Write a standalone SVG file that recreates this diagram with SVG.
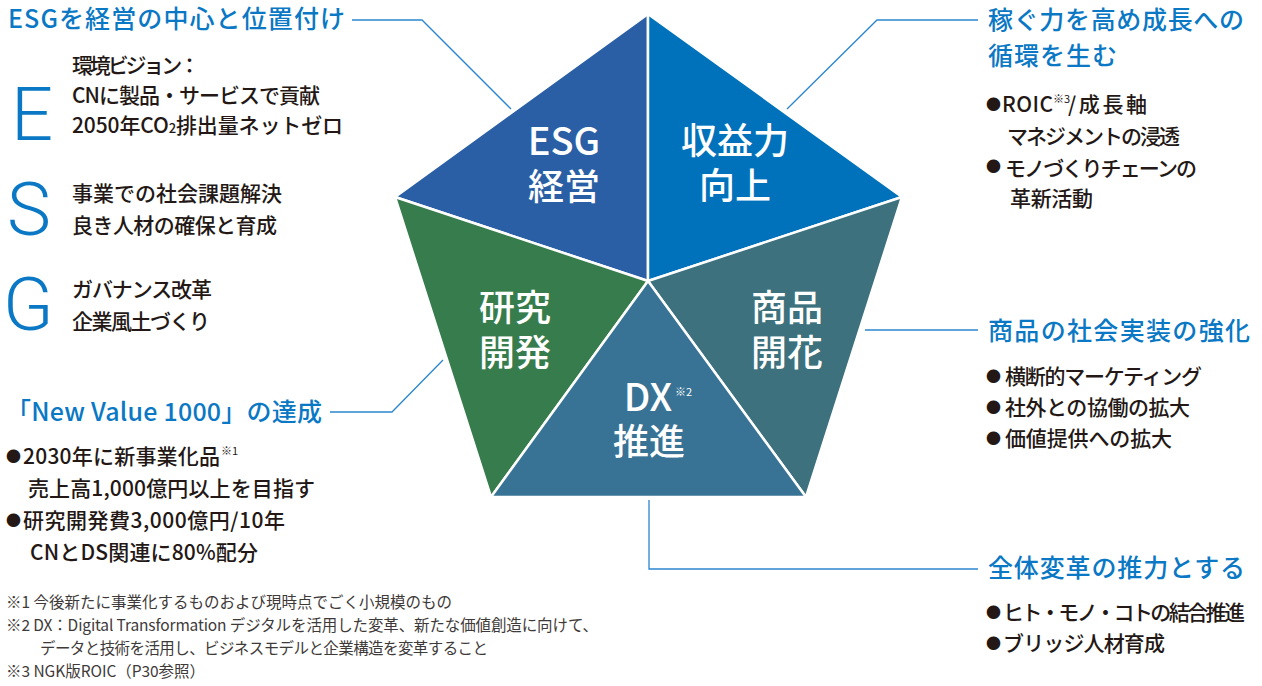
<svg xmlns="http://www.w3.org/2000/svg" width="1262" height="686" viewBox="0 0 1262 686">
<style>
text{font-family:"Noto Sans CJK JP","Noto Sans",sans-serif;}
.h{font-size:25px;fill:#0a78c4;font-weight:500;}
.b{font-size:21px;fill:#231815;font-weight:500;}
.dot{font-size:15px;fill:#231815;}
.sup{font-size:11px;fill:#231815;}
.fn{font-size:15.5px;fill:#3e3a39;}
.big{font-family:Roboto,"Noto Sans",sans-serif;font-weight:300;font-size:74px;fill:#0a78c4;}
.seg{stroke:#ffffff;stroke-width:2.5;stroke-linejoin:round;}
.pl{font-size:36px;fill:#ffffff;text-anchor:middle;font-weight:500;}
.pls{font-size:11px;fill:#ffffff;}
.con{fill:none;stroke:#2b86d0;stroke-width:1.3;}
</style>
<rect width="1262" height="686" fill="#ffffff"/>

<g id="connectors">
<polyline class="con" points="352,20 422,20 511,109"/>
<polyline class="con" points="978,20 877,20 787,109"/>
<polyline class="con" points="330,412 392,412 443,360"/>
<polyline class="con" points="865,330 978,330"/>
<polyline class="con" points="649,500 649,569 978,569"/>
</g>

<g id="pentagon">
<g id="seg-esg">
<polygon class="seg" points="648,14 395,197 648,281" fill="#2b5fa5"/>
<text class="pl"><tspan x="564" y="155" style="font-size:38px">ESG</tspan><tspan x="564" y="200">経営</tspan></text>
</g>
<g id="seg-profit">
<polygon class="seg" points="648,14 902,197 648,281" fill="#0072bb"/>
<text class="pl"><tspan x="735" y="154">収益力</tspan><tspan x="735" y="199">向上</tspan></text>
</g>
<g id="seg-product">
<polygon class="seg" points="902,197 806,497 648,281" fill="#3c717d"/>
<text class="pl"><tspan x="787" y="321">商品</tspan><tspan x="787" y="366">開花</tspan></text>
</g>
<g id="seg-rd">
<polygon class="seg" points="395,197 648,281 491,497" fill="#377c4c"/>
<text class="pl"><tspan x="515" y="321">研究</tspan><tspan x="515" y="366">開発</tspan></text>
</g>
<g id="seg-dx">
<polygon class="seg" points="648,281 806,497 491,497" fill="#387395"/>
<text class="pl"><tspan x="648" y="411" style="font-size:38px">DX</tspan><tspan x="649" y="455">推進</tspan></text>
<text class="pls" x="675" y="396">※2</text>
</g>
</g>

<g id="esg-block">
<text class="h" x="8" y="28" textLength="337">ESGを経営の中心と位置付け</text>
<text class="big" x="11" y="140">E</text>
<text class="b" x="72" y="73" textLength="128">環境ビジョン：</text>
<text class="b" x="72" y="103" textLength="248">CNに製品・サービスで貢献</text>
<text class="b" x="72" y="133" textLength="271">2050年CO<tspan font-size="13">2</tspan>排出量ネットゼロ</text>
<text class="big" x="7" y="235">S</text>
<text class="b" x="72" y="201" textLength="210">事業での社会課題解決</text>
<text class="b" x="72" y="233" textLength="205">良き人材の確保と育成</text>
<text class="big" x="3" y="330">G</text>
<text class="b" x="72" y="297" textLength="140">ガバナンス改革</text>
<text class="b" x="72" y="329" textLength="138">企業風土づくり</text>
</g>

<g id="nv-block">
<text class="h" x="6" y="421" textLength="316">「New Value 1000」の達成</text>
<text class="dot" x="6" y="462">●</text>
<text class="b" x="23" y="464" textLength="197">2030年に新事業化品</text>
<text class="sup" x="221" y="455">※1</text>
<text class="b" x="28" y="496" textLength="287">売上高1,000億円以上を目指す</text>
<text class="dot" x="6" y="526">●</text>
<text class="b" x="23" y="528" textLength="262">研究開発費3,000億円/10年</text>
<text class="b" x="30" y="560" textLength="228">CNとDS関連に80%配分</text>
</g>

<g id="footnotes">
<text class="fn" x="6" y="608" textLength="446">※1 今後新たに事業化するものおよび現時点でごく小規模のもの</text>
<text class="fn" x="6" y="631" textLength="592">※2 DX：Digital Transformation デジタルを活用した変革、新たな価値創造に向けて、</text>
<text class="fn" x="40" y="654" textLength="448">データと技術を活用し、ビジネスモデルと企業構造を変革すること</text>
<text class="fn" x="6" y="677" textLength="199">※3 NGK版ROIC（P30参照）</text>
</g>

<g id="profit-block">
<text class="h" x="988" y="29" textLength="256">稼ぐ力を高め成長への</text>
<text class="h" x="988" y="65" textLength="129">循環を生む</text>
<text class="dot" x="986" y="110">●</text>
<text class="b" x="1002" y="112" textLength="51">ROIC</text>
<text class="sup" x="1053" y="103">※3</text>
<text class="b" x="1068" y="112" textLength="79">/成長軸</text>
<text class="b" x="1007" y="144" textLength="173">マネジメントの浸透</text>
<text class="dot" x="986" y="172">●</text>
<text class="b" x="1005" y="176" textLength="192">モノづくりチェーンの</text>
<text class="b" x="1010" y="206" textLength="83">革新活動</text>
</g>

<g id="product-block">
<text class="h" x="988" y="340" textLength="262">商品の社会実装の強化</text>
<text class="dot" x="986" y="382">●</text>
<text class="b" x="1005" y="384" textLength="197">横断的マーケティング</text>
<text class="dot" x="986" y="413">●</text>
<text class="b" x="1005" y="415" textLength="185">社外との協働の拡大</text>
<text class="dot" x="986" y="444">●</text>
<text class="b" x="1005" y="446" textLength="167">価値提供への拡大</text>
</g>

<g id="dx-block">
<text class="h" x="988" y="577" textLength="257">全体変革の推力とする</text>
<text class="dot" x="986" y="618">●</text>
<text class="b" x="1003" y="620" textLength="242">ヒト・モノ・コトの結合推進</text>
<text class="dot" x="986" y="649">●</text>
<text class="b" x="1003" y="651" textLength="162">ブリッジ人材育成</text>
</g>
</svg>
